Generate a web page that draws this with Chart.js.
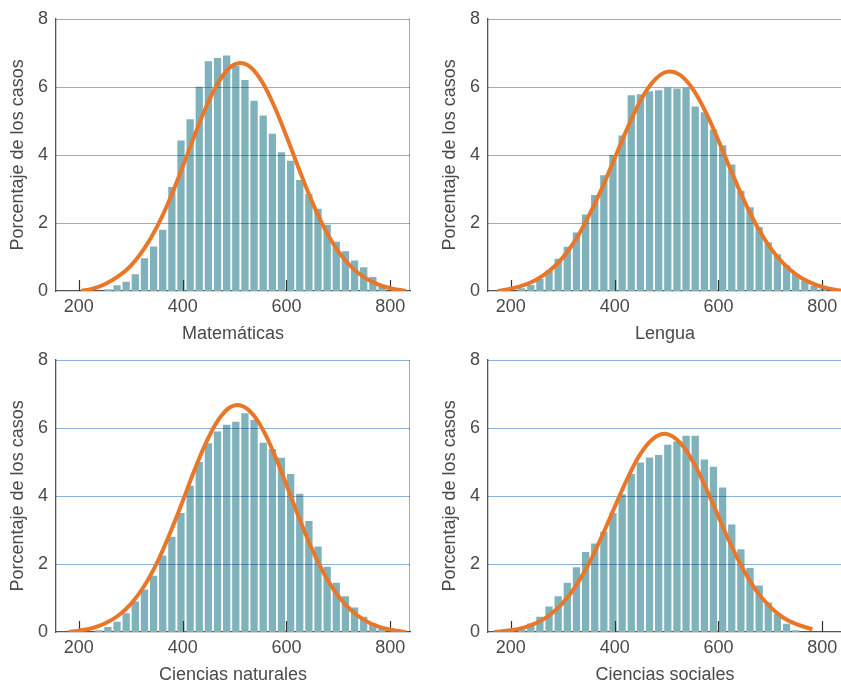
<!DOCTYPE html>
<html>
<head>
<meta charset="utf-8">
<script src="https://cdn.jsdelivr.net/npm/chart.js@4.4.1/dist/chart.umd.min.js"></script>
<style>
  html, body { margin: 0; padding: 0; background: #fff; width: 841px; height: 682px; overflow: hidden; }
  .panel { position: absolute; width: 420px; }
</style>
</head>
<body>
<div class="panel" style="left:0;top:0"><canvas id="c1" width="420" height="350"></canvas></div>
<div class="panel" style="left:432px;top:0"><canvas id="c2" width="420" height="350"></canvas></div>
<div class="panel" style="left:0;top:341px"><canvas id="c3" width="420" height="341"></canvas></div>
<div class="panel" style="left:432px;top:341px"><canvas id="c4" width="420" height="341"></canvas></div>

<script>
// bin centres (score points) shared by the four histograms
const binCenters = [203.2, 220.8, 238.4, 256, 273.6, 291.2, 308.8, 326.4, 344, 361.6,
  379.2, 396.8, 414.4, 432, 449.6, 467.2, 484.8, 502.4, 520, 537.6, 555.2, 572.8,
  590.4, 608, 625.6, 643.2, 660.8, 678.4, 696, 713.6, 731.2, 748.8, 766.4, 784, 801.6];

// percentage of cases per bin
const mathPct = [0, 0, 0, 0.05, 0.17, 0.27, 0.49, 0.96, 1.31, 1.8, 3.06, 4.42, 5.05, 6.0,
  6.75, 6.85, 6.92, 6.62, 6.2, 5.59, 5.16, 4.62, 4.08, 3.83, 3.26, 2.85, 2.42, 1.95, 1.45,
  1.17, 0.9, 0.7, 0.41, 0.15, 0];
const langPct = [0, 0.08, 0.18, 0.35, 0.6, 0.95, 1.3, 1.72, 2.25, 2.82, 3.4, 4.0, 4.57, 5.75,
  5.78, 5.87, 5.9, 5.97, 5.95, 5.97, 5.42, 5.25, 4.75, 4.28, 3.72, 2.95, 2.46, 1.88, 1.43,
  1.08, 0.75, 0.5, 0.3, 0.15, 0.07];
const natPct = [0, 0, 0.05, 0.15, 0.3, 0.55, 0.9, 1.25, 1.65, 2.25, 2.8, 3.5, 4.3, 5.0,
  5.55, 5.89, 6.09, 6.18, 6.43, 6.23, 5.56, 5.38, 5.12, 4.64, 4.06, 3.26, 2.51, 1.92, 1.45,
  1.05, 0.72, 0.45, 0.25, 0.1, 0];
const socPct = [0, 0.08, 0.25, 0.45, 0.75, 1.05, 1.45, 1.9, 2.35, 2.6, 2.95, 3.5, 4.05,
  4.64, 4.98, 5.13, 5.2, 5.5, 5.6, 5.77, 5.77, 5.07, 4.86, 4.25, 3.16, 2.43, 1.88, 1.37, 0.87,
  0.53, 0.24, 0.05, 0, 0, 0];

// fitted normal curves
const mathCurveX = [205, 225, 250, 275, 300, 325, 350, 375, 400, 425, 450, 475, 500, 525, 550,
  575, 600, 625, 650, 675, 700, 725, 750, 775, 800, 830];
const mathCurveY = [0, 0.06, 0.2, 0.42, 0.74, 1.22, 1.87, 2.69, 3.65, 4.65, 5.57, 6.28, 6.66,
  6.64, 6.22, 5.48, 4.55, 3.55, 2.6, 1.79, 1.16, 0.71, 0.4, 0.2, 0.08, 0];
const langCurveX = [175, 200, 225, 250, 275, 300, 325, 350, 375, 400, 425, 450, 475, 500, 525,
  550, 575, 600, 625, 650, 675, 700, 725, 750, 775, 800, 825, 840];
const langCurveY = [0, 0.07, 0.17, 0.34, 0.6, 0.98, 1.51, 2.2, 3.0, 3.9, 4.8, 5.6, 6.17, 6.44,
  6.36, 5.95, 5.27, 4.42, 3.51, 2.64, 1.88, 1.27, 0.81, 0.48, 0.26, 0.12, 0.04, 0];
const natCurveX = [180, 200, 225, 250, 275, 300, 325, 350, 375, 400, 425, 450, 475, 500, 525,
  550, 575, 600, 625, 650, 675, 700, 725, 750, 775, 800, 830];
const natCurveY = [0, 0.04, 0.11, 0.25, 0.47, 0.82, 1.33, 2.02, 2.88, 3.84, 4.84, 5.72, 6.36,
  6.66, 6.55, 6.07, 5.28, 4.32, 3.33, 2.41, 1.64, 1.05, 0.63, 0.35, 0.17, 0.07, 0];
const socCurveX = [168, 200, 225, 250, 275, 300, 325, 350, 375, 400, 425, 450, 475, 500, 525,
  550, 575, 600, 625, 650, 675, 700, 725, 750, 781];
const socCurveY = [0, 0.05, 0.13, 0.27, 0.5, 0.85, 1.35, 2.0, 2.8, 3.67, 4.52, 5.24, 5.69, 5.82,
  5.58, 5.03, 4.26, 3.39, 2.53, 1.78, 1.17, 0.73, 0.42, 0.23, 0.08];

const xTicks = [200, 400, 600, 800];
const yTicks = [0, 2, 4, 6, 8];
const yTitle = 'Porcentaje de los casos';

const gridColor = '#8ab1da';
const textColor = '#4a4a4a';
const fontFamily = '"Liberation Sans", Arial, Helvetica, sans-serif';

// blue grid + frame drawn over the bars (before the curve), plus inner tick marks
const gridOverlay = {
    id: 'gridOverlay',
    afterDatasetDraw(chart, args) {
        if (args.meta.type !== 'bar') return;
        const { ctx, chartArea: a, scales: { x, y } } = chart;
        ctx.save();
        ctx.globalCompositeOperation = 'multiply';
        ctx.strokeStyle = gridColor;
        ctx.lineWidth = 1;
        yTicks.forEach(v => {
            if (v === 0) return;
            const py = Math.round(y.getPixelForValue(v)) + 0.5;
            ctx.beginPath();
            ctx.moveTo(a.left, py);
            ctx.lineTo(a.right, py);
            ctx.stroke();
        });
        ctx.beginPath();
        ctx.moveTo(a.right - 0.5, a.top);
        ctx.lineTo(a.right - 0.5, a.bottom);
        ctx.stroke();
        ctx.globalCompositeOperation = 'source-over';
        ctx.strokeStyle = '#333';
        ctx.lineWidth = 1.2;
        xTicks.forEach(v => {
            const px = Math.round(x.getPixelForValue(v)) + 0.5;
            ctx.beginPath();
            ctx.moveTo(px, a.bottom);
            ctx.lineTo(px, a.bottom - 11);
            ctx.stroke();
        });
        ctx.restore();
    }
};

// xBox = height of the x axis block, titlePad = gap below the x title
function makeChart(id, title, pct, curveX, curveY, xBox, titlePad) {
    const ctx = document.getElementById(id).getContext('2d');
    return new Chart(ctx, {
        type: 'bar',
        data: {
            datasets: [{
                type: 'line',
                data: curveX.map((v, i) => ({ x: v, y: curveY[i] })),
                borderColor: '#e8772a',
                borderWidth: 4,
                pointRadius: 0,
                tension: 0.4,
                order: 0
            }, {
                type: 'bar',
                data: binCenters.map((v, i) => ({ x: v, y: pct[i] })),
                backgroundColor: '#80b2bc',
                barPercentage: 0.8,
                categoryPercentage: 1,
                order: 1
            }]
        },
        options: {
            responsive: false,
            animation: false,
            events: [],
            layout: { padding: { top: 15, right: 10, left: 0, bottom: 0 } },
            plugins: { legend: { display: false }, tooltip: { enabled: false } },
            scales: {
                x: {
                    type: 'linear',
                    min: 156,
                    max: 838,
                    offset: false,
                    afterBuildTicks: s => { s.ticks = xTicks.map(v => ({ value: v })); },
                    afterFit: s => { s.height = xBox; },
                    grid: { display: false, drawTicks: false },
                    border: { display: true, color: '#555', width: 1.3 },
                    ticks: { color: textColor, padding: 5, font: { family: fontFamily, size: 18 } },
                    title: {
                        display: true, text: title, color: textColor,
                        padding: { top: 0, bottom: titlePad },
                        font: { family: fontFamily, size: 18, lineHeight: 1 }
                    }
                },
                y: {
                    min: 0,
                    max: 8,
                    afterBuildTicks: s => { s.ticks = yTicks.map(v => ({ value: v })); },
                    afterFit: s => { s.width = 56; },
                    grid: { display: false, drawTicks: false },
                    border: { display: true, color: '#555', width: 1.3 },
                    ticks: { color: textColor, padding: 8, font: { family: fontFamily, size: 18 } },
                    title: {
                        display: true, text: yTitle, color: textColor,
                        padding: { top: 7, bottom: 0 },
                        font: { family: fontFamily, size: 18, lineHeight: 1.2 }
                    }
                }
            }
        },
        plugins: [gridOverlay]
    });
}

makeChart('c1', 'Matemáticas', mathPct, mathCurveX, mathCurveY, 59, 7);
makeChart('c2', 'Lengua', langPct, langCurveX, langCurveY, 59, 7);
makeChart('c3', 'Ciencias naturales', natPct, natCurveX, natCurveY, 50, -2);
makeChart('c4', 'Ciencias sociales', socPct, socCurveX, socCurveY, 50, -2);
</script>
</body>
</html>
